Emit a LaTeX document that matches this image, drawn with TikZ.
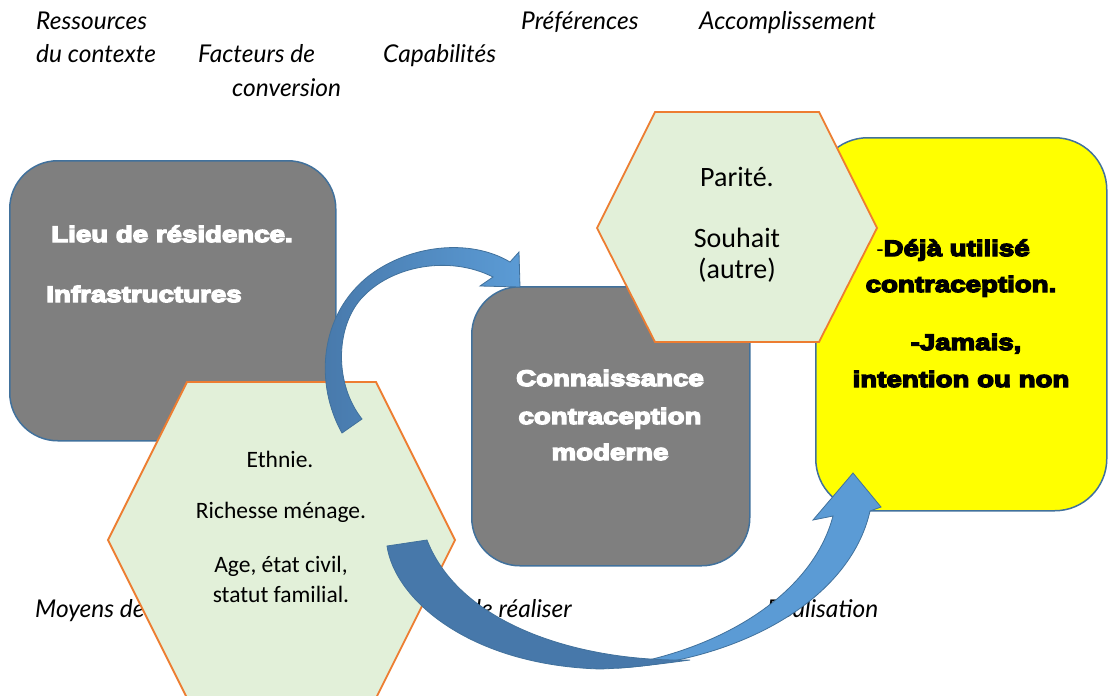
\documentclass[tikz,border=0pt]{standalone}
\usepackage{fontspec}
\setmainfont{Carlito}
\newfontfamily\labfont{Lato}
\newfontfamily\blk{Liberation Sans Bold}[FakeStretch=1.23]
\newfontfamily\reg{Liberation Sans}
\newcommand\heavytext[1]{\special{pdf:code 2 Tr 1.4 w}#1\special{pdf:code 0 Tr 0 w}}
\definecolor{boxgray}{HTML}{7F7F7F}
\definecolor{boxline}{HTML}{41719C}
\definecolor{boxyellow}{HTML}{FFFF00}
\definecolor{hexfill}{HTML}{E2F0D9}
\definecolor{hexline}{HTML}{ED7D31}
\definecolor{arrdark}{HTML}{4778AA}
\definecolor{arrlight}{HTML}{5B9BD5}
\definecolor{arrline}{HTML}{41719C}
\tikzset{
  graybox/.style={draw=boxline, line width=1.5pt, fill=boxgray, rounded corners=48pt, inner sep=0pt},
  yelbox/.style={draw=boxline, line width=1.5pt, fill=boxyellow, rounded corners=52pt, inner sep=0pt},
  hexshape/.style={draw=hexline, line width=1.8pt, fill=hexfill, line join=miter},
  lab/.style={font=\labfont\itshape\fontsize{24.5}{24.5}\selectfont, inner sep=0pt},
  wtxt/.style={font=\blk\fontsize{22.5}{22.5}\selectfont, text=white, inner sep=0pt, anchor=base},
  ktxt/.style={font=\blk\fontsize{22.5}{22.5}\selectfont, text=black, inner sep=0pt, anchor=base},
  htxt/.style={font=\fontsize{23.5}{23.5}\selectfont, inner sep=0pt, anchor=base},
  hbig/.style={font=\fontsize{28}{28}\selectfont, inner sep=0pt, anchor=base},
  arrowshape/.style={draw=arrline, line width=0.8pt, line join=miter}
}
\begin{document}
\begin{tikzpicture}[x=1pt,y=-1pt]
\useasboundingbox (0,0) rectangle (1111,696);
\fill[white] (0,0) rectangle (1111,696);

% labels (behind shapes)
\node[lab, anchor=base west] (l1) at (36,29) {Ressources};
\node[lab, anchor=base west] (l2) at (36,62) {du contexte};
\node[lab, anchor=base west] (l3) at (198,62) {Facteurs de};
\node[lab, anchor=base west] (l4) at (232,96) {conversion};
\node[lab, anchor=base west] (l5) at (383,62) {Capabilités};
\node[lab, anchor=base west] (l6) at (521,29) {Préférences};
\node[lab, anchor=base west] (l7) at (699,29) {Accomplissement};
\node[lab, anchor=base west] (l8) at (35,617) {Moyens de};
\node[lab, anchor=base east] (l9) at (572,617) {de réaliser};
\node[lab, anchor=base west] (l10) at (767,617) {Réalisation};

% boxes
\node[graybox, minimum width=326pt, minimum height=280pt, anchor=north west] (box1) at (9,160) {};
\node[graybox, minimum width=278pt, minimum height=279pt, anchor=north west] (box2) at (471,286) {};
\node[yelbox, minimum width=291pt, minimum height=373pt, anchor=north west] (box3) at (815,137) {};

\node[wtxt] (t11) at (172,242) {\heavytext{Lieu de résidence.}};
\node[wtxt] (t12) at (144,302) {\heavytext{Infrastructures}};

\node[wtxt] (t21) at (610,386) {\heavytext{Connaissance}};
\node[wtxt] (t22) at (610,424) {\heavytext{contraception}};
\node[wtxt] (t23) at (610,460) {\heavytext{moderne}};

\node[ktxt] (t31) at (953,256) {{\reg\fontsize{22}{22}\selectfont -}\heavytext{Déjà utilisé}};
\node[ktxt] (t32) at (961,292) {\heavytext{contraception.}};
\node[ktxt] (t33) at (966,350) {\heavytext{-Jamais,}};
\node[ktxt] (t34) at (961,387) {\heavytext{intention ou non}};

% hexagon 2 (top)
\draw[hexshape] (597,228) -- (655,112) -- (819,112) -- (877,228) -- (819,342) -- (655,342) -- cycle;
\coordinate (hex2) at (737,227);
\node[hbig] (h21) at (737,186) {Parité.};
\node[hbig] (h22) at (737,247) {Souhait};
\node[hbig] (h23) at (737,278) {(autre)};

% hexagon 1 (left)
\draw[hexshape] (108,540) -- (187,382) -- (376,382) -- (455,540) -- (376,698) -- (187,698) -- cycle;
\coordinate (hex1) at (281,540);
\node[htxt] (h11) at (280,467) {Ethnie.};
\node[htxt] (h12) at (281,518) {Richesse ménage.};
\node[htxt] (h13) at (281,572) {Age, état civil,};
\node[htxt] (h14) at (281,602) {statut familial.};

% curved arrow 1 : hexagon 1 -> box 2
\shade[arrowshape, left color=arrdark, right color=arrlight]
  (342,433) .. controls (315,385) and (318,315) .. (370,275)
  .. controls (410,245) and (470,238) .. (510,262)
  -- (519,252) -- (520,287) -- (480,286) -- (493,277)
  .. controls (450,255) and (390,265) .. (360,300)
  .. controls (335,330) and (335,385) .. (362,419) -- cycle;

% curved arrow 2 : hexagon 1 -> box 3
\fill[arrowshape, fill=arrlight]
  (620,668) .. controls (740,660) and (850,600) .. (870,511)
  -- (881,507) -- (853,473) -- (813,520) -- (833,516)
  .. controls (815,585) and (740,640) .. (640,662) -- cycle;
\draw[arrowshape, fill=arrdark]
  (387,546) .. controls (395,600) and (470,665) .. (600,669)
  .. controls (630,668) and (660,664) .. (690,660)
  .. controls (580,662) and (460,625) .. (427,540) -- cycle;
\end{tikzpicture}
\end{document}
